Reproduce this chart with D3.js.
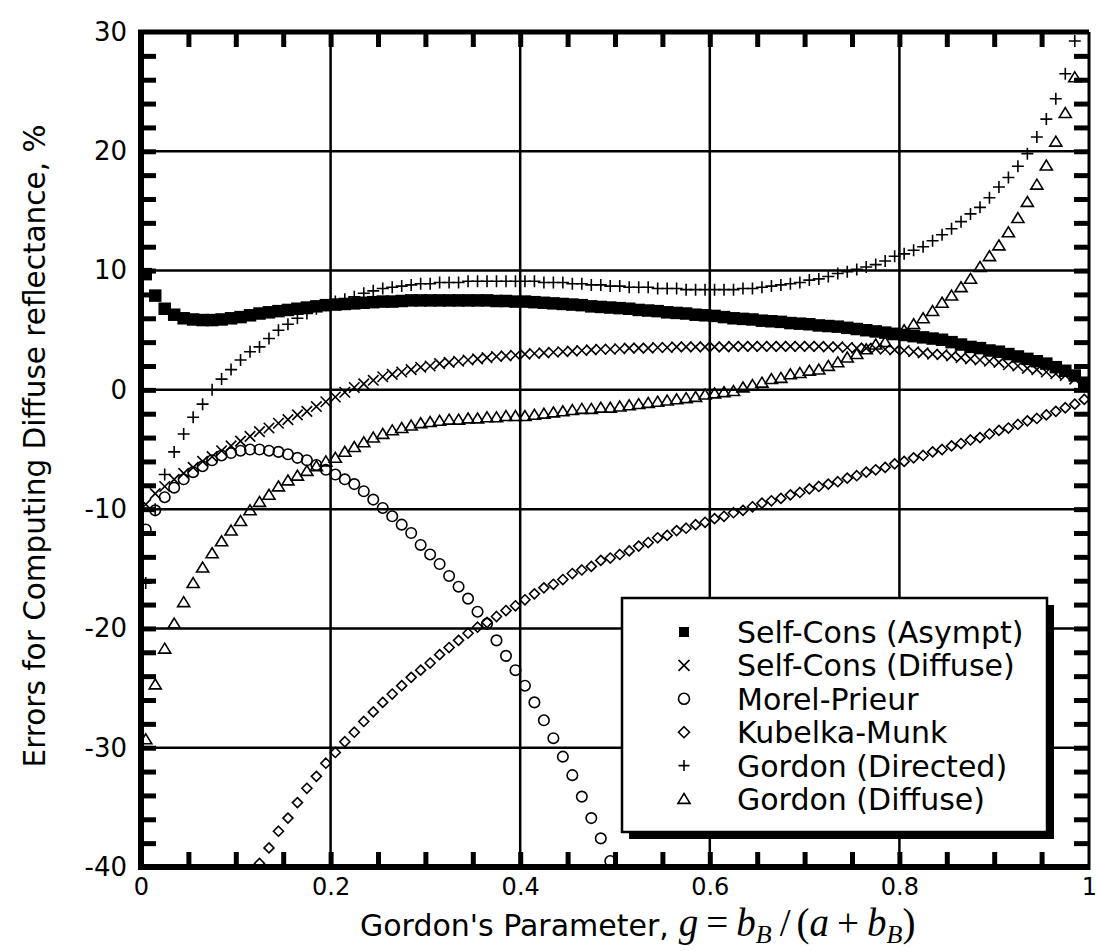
<!DOCTYPE html>
<html>
<head>
<meta charset="utf-8">
<script src="https://cdn.jsdelivr.net/npm/d3@7"></script>
<style>
  body { margin: 0; background: #fff; }
  svg { display: block; }
</style>
</head>
<body>
<svg id="chart" width="1097" height="951"></svg>
<script>
// Gordon's parameter g, the sample positions of every series
var gValues = [
  0.005, 0.015, 0.025, 0.035, 0.045, 0.055, 0.065, 0.075, 0.085, 0.095,
  0.105, 0.115, 0.125, 0.135, 0.145, 0.155, 0.165, 0.175, 0.185, 0.195,
  0.205, 0.215, 0.225, 0.235, 0.245, 0.255, 0.265, 0.275, 0.285, 0.295,
  0.305, 0.315, 0.325, 0.335, 0.345, 0.355, 0.365, 0.375, 0.385, 0.395,
  0.405, 0.415, 0.425, 0.435, 0.445, 0.455, 0.465, 0.475, 0.485, 0.495,
  0.505, 0.515, 0.525, 0.535, 0.545, 0.555, 0.565, 0.575, 0.585, 0.595,
  0.605, 0.615, 0.625, 0.635, 0.645, 0.655, 0.665, 0.675, 0.685, 0.695,
  0.705, 0.715, 0.725, 0.735, 0.745, 0.755, 0.765, 0.775, 0.785, 0.795,
  0.805, 0.815, 0.825, 0.835, 0.845, 0.855, 0.865, 0.875, 0.885, 0.895,
  0.905, 0.915, 0.925, 0.935, 0.945, 0.955, 0.965, 0.975, 0.985, 0.995
];

// errors in %, one value per g (null = off the chart)
var selfConsAsympt = [
  9.7, 7.9, 6.8, 6.3, 6.0, 5.9, 5.85, 5.85, 5.9, 6.0,
  6.1, 6.25, 6.4, 6.5, 6.6, 6.7, 6.8, 6.9, 7.0, 7.1,
  7.15, 7.2, 7.25, 7.3, 7.35, 7.4, 7.4, 7.45, 7.5, 7.5,
  7.5, 7.5, 7.5, 7.5, 7.5, 7.5, 7.5, 7.45, 7.45, 7.4,
  7.4, 7.35, 7.3, 7.25, 7.2, 7.15, 7.1, 7.0, 6.95, 6.9,
  6.85, 6.8, 6.7, 6.65, 6.6, 6.5, 6.45, 6.4, 6.3, 6.25,
  6.2, 6.1, 6.0, 5.95, 5.9, 5.8, 5.75, 5.7, 5.6, 5.55,
  5.5, 5.4, 5.35, 5.3, 5.2, 5.1, 5.0, 4.9, 4.8, 4.7,
  4.6, 4.5, 4.4, 4.3, 4.2, 4.0, 3.8, 3.6, 3.5, 3.3,
  3.2, 3.0, 2.8, 2.6, 2.4, 2.2, 1.9, 1.6, 1.2, 0.6
];

var selfConsDiffuse = [
  -9.6, -8.7, -8.1, -7.5, -7.0, -6.5, -6.0, -5.6, -5.1, -4.7,
  -4.3, -3.9, -3.5, -3.2, -2.8, -2.5, -2.1, -1.8, -1.4, -1.0,
  -0.6, -0.2, 0.2, 0.5, 0.8, 1.1, 1.3, 1.5, 1.7, 1.9,
  2.0, 2.2, 2.3, 2.4, 2.5, 2.6, 2.7, 2.8, 2.85, 2.9,
  3.0, 3.05, 3.1, 3.15, 3.2, 3.25, 3.3, 3.35, 3.4, 3.4,
  3.45, 3.5, 3.5, 3.5, 3.55, 3.55, 3.6, 3.6, 3.6, 3.6,
  3.6, 3.6, 3.65, 3.65, 3.65, 3.65, 3.65, 3.65, 3.65, 3.65,
  3.65, 3.65, 3.6, 3.6, 3.55, 3.5, 3.5, 3.45, 3.4, 3.35,
  3.3, 3.2, 3.1, 3.0, 2.95, 2.85, 2.7, 2.6, 2.5, 2.4,
  2.3, 2.1, 2.0, 1.8, 1.7, 1.5, 1.35, 1.2, 0.9, 0.5
];

var morelPrieur = [
  -11.7, -10.1, -9.0, -8.2, -7.5, -6.9, -6.4, -5.9, -5.5, -5.3,
  -5.1, -5.0, -5.0, -5.1, -5.2, -5.4, -5.7, -5.9, -6.3, -6.7,
  -7.1, -7.5, -7.9, -8.5, -9.2, -9.9, -10.6, -11.3, -12.0, -13.0,
  -13.8, -14.6, -15.6, -16.5, -17.5, -18.6, -19.6, -21.0, -22.3, -23.5,
  -24.8, -26.2, -27.7, -29.2, -30.75, -32.3, -34.1, -35.9, -37.6, -39.5,
  null, null, null, null, null, null, null, null, null, null,
  null, null, null, null, null, null, null, null, null, null,
  null, null, null, null, null, null, null, null, null, null,
  null, null, null, null, null, null, null, null, null, null,
  null, null, null, null, null, null, null, null, null, null
];

var kubelkaMunk = [
  null, null, null, null, null, null, null, null, null, null,
  null, null, -39.7, -38.4, -37.0, -35.9, -34.6, -33.4, -32.4, -31.3,
  -30.4, -29.5, -28.7, -27.8, -27.0, -26.2, -25.5, -24.8, -24.1, -23.5,
  -22.9, -22.2, -21.6, -21.0, -20.4, -19.9, -19.5, -19.0, -18.5, -18.1,
  -17.6, -17.1, -16.6, -16.3, -15.9, -15.4, -15.1, -14.8, -14.3, -14.1,
  -13.8, -13.5, -13.1, -12.8, -12.4, -12.2, -11.8, -11.6, -11.3, -11.1,
  -10.8, -10.6, -10.3, -10.1, -9.8, -9.5, -9.3, -9.1, -8.8, -8.6,
  -8.3, -8.1, -7.9, -7.7, -7.4, -7.2, -6.9, -6.7, -6.5, -6.2,
  -6.0, -5.7, -5.5, -5.2, -5.0, -4.7, -4.5, -4.2, -4.0, -3.7,
  -3.4, -3.2, -2.9, -2.6, -2.4, -2.1, -1.8, -1.5, -1.2, -0.8
];

var gordonDirected = [
  -16.2, -10.0, -7.1, -5.2, -3.7, -2.3, -1.2, 0.0, 0.9, 1.7,
  2.5, 3.2, 3.6, 4.3, 5.0, 5.5, 6.0, 6.4, 6.8, 7.1,
  7.4, 7.6, 7.8, 8.1, 8.3, 8.5, 8.6, 8.7, 8.8, 8.9,
  8.9, 9.0, 9.0, 9.0, 9.1, 9.1, 9.1, 9.1, 9.1, 9.1,
  9.1, 9.1, 9.0, 9.0, 9.0, 8.9, 8.9, 8.8, 8.8, 8.7,
  8.7, 8.6, 8.6, 8.6, 8.5, 8.5, 8.5, 8.4, 8.4, 8.4,
  8.4, 8.4, 8.4, 8.5, 8.5, 8.6, 8.7, 8.8, 8.9, 9.0,
  9.2, 9.3, 9.5, 9.75, 9.9, 10.1, 10.3, 10.5, 10.8, 11.2,
  11.4, 11.7, 12.0, 12.5, 13.0, 13.5, 14.1, 14.75, 15.3, 16.1,
  17.0, 17.8, 18.75, 19.8, 21.2, 22.7, 24.4, 26.5, 29.25, null
];

var gordonDiffuse = [
  -29.3, -24.7, -21.7, -19.6, -17.8, -16.2, -14.9, -13.7, -12.7, -11.8,
  -11.0, -10.1, -9.4, -8.8, -8.1, -7.6, -7.2, -6.8, -6.4, -6.0,
  -5.7, -5.2, -4.8, -4.4, -4.0, -3.7, -3.4, -3.2, -3.0, -2.8,
  -2.7, -2.6, -2.5, -2.5, -2.4, -2.4, -2.3, -2.3, -2.2, -2.2,
  -2.2, -2.1, -2.0, -1.9, -1.8, -1.7, -1.6, -1.6, -1.5, -1.5,
  -1.4, -1.3, -1.2, -1.1, -1.0, -0.9, -0.8, -0.7, -0.6, -0.4,
  -0.3, -0.2, -0.1, 0.2, 0.4, 0.6, 0.9, 1.0, 1.3, 1.4,
  1.6, 1.7, 2.0, 2.3, 2.7, 3.0, 3.4, 3.8, 4.0, 4.6,
  5.0, 5.5, 6.0, 6.6, 7.3, 7.9, 8.6, 9.3, 10.3, 11.2,
  12.1, 13.2, 14.4, 15.75, 17.2, 18.8, 20.8, 23.2, 26.2, null
];

var legendLabels = [
  "Self-Cons (Asympt)", "Self-Cons (Diffuse)", "Morel-Prieur",
  "Kubelka-Munk", "Gordon (Directed)", "Gordon (Diffuse)"
];
var xTickValues = [0, 0.2, 0.4, 0.6, 0.8, 1];
var xTickLabels = ["0", "0.2", "0.4", "0.6", "0.8", "1"];
var yTickValues = [-40, -30, -20, -10, 0, 10, 20, 30];
var yTickLabels = ["-40", "-30", "-20", "-10", "0", "10", "20", "30"];

var margin = {top: 32, right: 8, bottom: 84, left: 141},
    width = 1097 - margin.left - margin.right,
    height = 951 - margin.top - margin.bottom;

var x = d3.scaleLinear().domain([0, 1]).range([0, width]);
var y = d3.scaleLinear().domain([-40, 30]).range([height, 0]);

var svg = d3.select("#chart");
var chart = svg.append("g")
  .attr("transform", "translate(" + margin.left + "," + margin.top + ")");

svg.append("defs").append("clipPath").attr("id", "plotclip")
  .append("rect").attr("x", 0).attr("y", 0)
  .attr("width", width).attr("height", height);

// grid lines
chart.append("g").selectAll("line.vgrid")
  .data([0.2, 0.4, 0.6, 0.8]).enter().append("line")
  .attr("x1", function(d) { return x(d); }).attr("x2", function(d) { return x(d); })
  .attr("y1", 0).attr("y2", height)
  .attr("stroke", "#000").attr("stroke-width", 2.5);
chart.append("g").selectAll("line.hgrid")
  .data([-30, -20, -10, 0, 10, 20]).enter().append("line")
  .attr("x1", 0).attr("x2", width)
  .attr("y1", function(d) { return y(d); }).attr("y2", function(d) { return y(d); })
  .attr("stroke", "#000").attr("stroke-width", 2.5);

// marker shapes
var shapes = {
  square: {draw: function(c, s) { var r = Math.sqrt(s) / 2; c.rect(-r, -r, 2 * r, 2 * r); }},
  times: {draw: function(c, s) { var r = Math.sqrt(s) / 2;
    c.moveTo(-r, -r); c.lineTo(r, r); c.moveTo(-r, r); c.lineTo(r, -r); }},
  circle: {draw: function(c, s) { var r = Math.sqrt(s) / 2;
    c.moveTo(r, 0); c.arc(0, 0, r, 0, 2 * Math.PI); }},
  diamond: {draw: function(c, s) { var r = Math.sqrt(s) / 2;
    c.moveTo(0, -r); c.lineTo(r, 0); c.lineTo(0, r); c.lineTo(-r, 0); c.closePath(); }},
  plus: {draw: function(c, s) { var r = Math.sqrt(s) / 2;
    c.moveTo(-r, 0); c.lineTo(r, 0); c.moveTo(0, -r); c.lineTo(0, r); }},
  triangle: {draw: function(c, s) { var r = Math.sqrt(s) / 2;
    c.moveTo(0, -r); c.lineTo(r * 1.1, r * 0.8); c.lineTo(-r * 1.1, r * 0.8); c.closePath(); }}
};

var series = [
  {values: kubelkaMunk, shape: shapes.diamond, size: 100, fill: "none"},
  {values: morelPrieur, shape: shapes.circle, size: 110, fill: "none"},
  {values: gordonDiffuse, shape: shapes.triangle, size: 121, fill: "none"},
  {values: gordonDirected, shape: shapes.plus, size: 144, fill: "none"},
  {values: selfConsDiffuse, shape: shapes.times, size: 110, fill: "none"},
  {values: selfConsAsympt, shape: shapes.square, size: 156, fill: "#000"}
];

var marks = chart.append("g").attr("clip-path", "url(#plotclip)");
series.forEach(function(s) {
  var pts = gValues.map(function(g, i) { return {g: g, v: s.values[i]}; })
    .filter(function(d) { return d.v !== null; });
  marks.append("g").selectAll("path")
    .data(pts).enter().append("path")
    .attr("transform", function(d) { return "translate(" + x(d.g) + "," + y(d.v) + ")"; })
    .attr("d", d3.symbol().type(s.shape).size(s.size))
    .attr("fill", s.fill)
    .attr("stroke", s.fill === "none" ? "#000" : "none")
    .attr("stroke-width", 1.6);
});

// inward tick marks on all four sides
var xMinor = d3.range(1, 20).map(function(i) { return i * 0.05; });
var yMinor = d3.range(-38, 30, 2);
function tickStyle(g) {
  g.select(".domain").remove();
  g.selectAll(".tick line").attr("stroke", "#000").attr("stroke-width", 5);
  g.selectAll(".tick text").remove();
}
chart.append("g").attr("transform", "translate(0," + height + ")")
  .call(d3.axisBottom(x).tickValues(xMinor).tickSize(-15)).call(tickStyle);
chart.append("g")
  .call(d3.axisTop(x).tickValues(xMinor).tickSize(-15)).call(tickStyle);
chart.append("g")
  .call(d3.axisLeft(y).tickValues(yMinor).tickSize(-15)).call(tickStyle);
chart.append("g").attr("transform", "translate(" + width + ",0)")
  .call(d3.axisRight(y).tickValues(yMinor).tickSize(-15)).call(tickStyle);

// frame
chart.append("line").attr("x1", -3).attr("x2", width).attr("y1", height).attr("y2", height)
  .attr("stroke", "#000").attr("stroke-width", 6);
chart.append("line").attr("x1", 0).attr("x2", 0).attr("y1", -2).attr("y2", height + 3)
  .attr("stroke", "#000").attr("stroke-width", 6);
chart.append("line").attr("x1", -3).attr("x2", width).attr("y1", 0).attr("y2", 0)
  .attr("stroke", "#000").attr("stroke-width", 5);
chart.append("line").attr("x1", width).attr("x2", width).attr("y1", 0).attr("y2", height + 3)
  .attr("stroke", "#000").attr("stroke-width", 3);

// tick labels
var font = "'DejaVu Sans', sans-serif";
chart.append("g").attr("transform", "translate(0," + height + ")")
  .call(d3.axisBottom(x).tickValues(xTickValues).tickSize(0).tickPadding(11)
    .tickFormat(function(d, i) { return xTickLabels[i]; }))
  .call(function(g) {
    g.select(".domain").remove();
    g.selectAll("text").attr("font-family", font).attr("font-size", 24).attr("fill", "#000");
  });
chart.append("g")
  .call(d3.axisLeft(y).tickValues(yTickValues).tickSize(0).tickPadding(14)
    .tickFormat(function(d, i) { return yTickLabels[i]; }))
  .call(function(g) {
    g.select(".domain").remove();
    g.selectAll("text").attr("font-family", font).attr("font-size", 26).attr("fill", "#000");
  });

// axis titles
svg.append("text")
  .attr("transform", "translate(45,446) rotate(-90)")
  .attr("text-anchor", "middle")
  .attr("font-family", font).attr("font-size", 29.5)
  .text("Errors for Computing Diffuse reflectance, %");

var xt = svg.append("text").attr("x", 360).attr("y", 936)
  .attr("font-family", font).attr("font-size", 30);
xt.append("tspan").text("Gordon's Parameter,");
var serif = "'Liberation Serif', 'DejaVu Serif', serif";
function mth(txt, italic, opts) {
  opts = opts || {};
  var t = xt.append("tspan").attr("font-family", serif).attr("font-size", opts.size || 39)
    .attr("font-style", italic ? "italic" : "normal").text(txt);
  if (opts.dx) t.attr("dx", opts.dx);
  if (opts.dy) t.attr("dy", opts.dy);
  return t;
}
mth("g", true, {dx: 10});
mth("=", false, {dx: 8});
mth("b", true, {dx: 8});
mth("B", true, {size: 26, dy: 7});
mth("/", false, {dx: 8, dy: -7});
mth("(", false, {dx: 6});
mth("a", true);
mth("+", false, {dx: 8});
mth("b", true, {dx: 8});
mth("B", true, {size: 26, dy: 7});
mth(")", false, {dy: -7});

// legend
var legend = svg.append("g");
legend.append("rect").attr("x", 629).attr("y", 605).attr("width", 425).attr("height", 234)
  .attr("fill", "#000");
legend.append("rect").attr("x", 622).attr("y", 598).attr("width", 425).attr("height", 234)
  .attr("fill", "#fff").attr("stroke", "#000").attr("stroke-width", 2.5);
var legendShapes = [shapes.square, shapes.times, shapes.circle, shapes.diamond, shapes.plus, shapes.triangle];
legendLabels.forEach(function(label, i) {
  var ly = 632 + i * 33.4;
  legend.append("path")
    .attr("transform", "translate(684," + ly + ")")
    .attr("d", d3.symbol().type(legendShapes[i]).size(i === 0 ? 100 : 121))
    .attr("fill", i === 0 ? "#000" : "none")
    .attr("stroke", i === 0 ? "none" : "#000").attr("stroke-width", 1.6);
  legend.append("text").attr("x", 737).attr("y", ly + 11)
    .attr("font-family", font).attr("font-size", 30).text(label);
});
</script>
</body>
</html>
